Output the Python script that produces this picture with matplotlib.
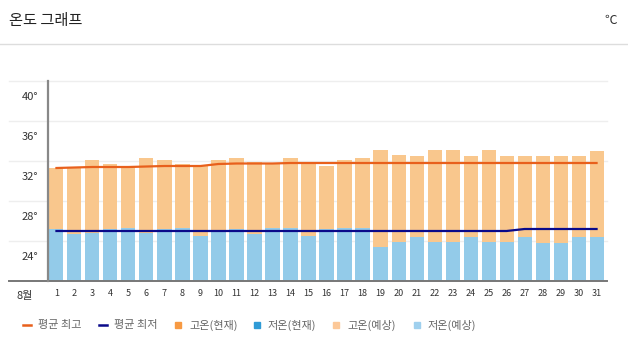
import matplotlib.pyplot as plt
import matplotlib.transforms as mtransforms
from matplotlib.lines import Line2D
from matplotlib.patches import Rectangle

plt.rcParams['font.family'] = ['Noto Sans CJK KR', 'DejaVu Sans']

days = list(range(1, 32))
high = [31.3, 31.3, 32.1, 31.7, 31.4, 32.3, 32.1, 31.7, 31.5, 32.1,
        32.3, 31.9, 31.7, 32.3, 31.7, 31.5, 32.1, 32.3, 33.1, 32.6,
        32.5, 33.1, 33.1, 32.5, 33.1, 32.5, 32.5, 32.5, 32.5, 32.5, 33.0]
low = [25.2, 24.7, 24.8, 25.2, 25.3, 24.8, 25.2, 25.3, 24.5, 25.1,
       25.2, 24.7, 25.3, 25.3, 24.5, 25.2, 25.3, 25.3, 23.4, 23.9,
       24.4, 23.9, 23.9, 24.4, 23.9, 23.9, 24.4, 23.8, 23.8, 24.4, 24.4]
avg_max = [31.3, 31.35, 31.4, 31.4, 31.4, 31.45, 31.5, 31.5, 31.5, 31.7,
           31.75, 31.75, 31.75, 31.8, 31.8, 31.8, 31.8, 31.8, 31.8, 31.8,
           31.8, 31.8, 31.8, 31.8, 31.8, 31.8, 31.8, 31.8, 31.8, 31.8, 31.8]
avg_min = [25.0] * 26 + [25.2] * 5
y_ticks = [24, 28, 32, 36, 40]
legend_labels = ['평균 최고', '평균 최저', '고온(현재)', '저온(현재)', '고온(예상)', '저온(예상)']

c_high = '#f9c78d'
c_low = '#93cbe9'
c_avgmax = '#e8601c'
c_avgmin = '#0a0a8a'
legend_colors = [c_avgmax, c_avgmin, '#f79a43', '#2f9bd6', '#fcc898', '#9fd0ee']

W, H = 628, 353
fig = plt.figure(figsize=(W / 100, H / 100), dpi=100)
ax = fig.add_axes([48 / W, 1 - 281 / H, (607 - 48) / W, 200 / H])

ax.bar(days, high, width=0.78, color=c_high, zorder=2)
ax.bar(days, low, width=0.78, color=c_low, zorder=3)
ax.plot(days, avg_max, color=c_avgmax, lw=1.6, zorder=4)
ax.plot(days, avg_min, color=c_avgmin, lw=1.6, zorder=4)

ax.set_xlim(0.53, 31.58)
ax.set_ylim(20, 40)
ax.set_yticks([])
ax.set_xticks([])
for s in ['top', 'right', 'bottom']:
    ax.spines[s].set_visible(False)
ax.spines['left'].set_color('#888888')
ax.spines['left'].set_linewidth(1.6)
ax.spines['left'].set_zorder(5)

# grid lines reach out past the left spine
ytr = ax.get_yaxis_transform()
for v in y_ticks:
    ax.add_line(Line2D([-0.07, 1.0], [v, v], transform=ytr, color='#eeeeee',
                       lw=1, clip_on=False, zorder=1))
    lab_tr = mtransforms.offset_copy(ytr, fig=fig, x=-10, y=-16, units='dots')
    ax.text(0, v, f'{v}°', transform=lab_tr, ha='right', va='center',
            fontsize=8, color='#333333')
ax.add_line(Line2D([-0.07, 1.0], [20, 20], transform=ytr, color='#777777',
                   lw=1.4, clip_on=False, zorder=5))

# day labels
xtr = mtransforms.offset_copy(ax.get_xaxis_transform(), fig=fig, x=0, y=-12, units='dots')
for d in days:
    ax.text(d, 0, str(d), transform=xtr, ha='center', va='center',
            fontsize=6.5, color='#333333')
fig.text(25 / W, 1 - 296 / H, '8월', ha='center', va='center', fontsize=8, color='#333333')

# header
fig.text(9 / W, 1 - 21 / H, '온도 그래프', ha='left', va='center', fontsize=11, color='#222222')
fig.text(617 / W, 1 - 20 / H, '℃', ha='right', va='center', fontsize=9, color='#333333')
fig.add_artist(Line2D([0, 1], [1 - 44 / H, 1 - 44 / H], transform=fig.transFigure,
                      color='#dddddd', lw=1))

# legend
marker_x = [27, 103, 178, 257, 336, 417]
ly = 1 - 325 / H
for i, (lab, col) in enumerate(zip(legend_labels, legend_colors)):
    mx = marker_x[i]
    if i < 2:
        fig.add_artist(Line2D([(mx - 4) / W, (mx + 4) / W], [ly, ly],
                              transform=fig.transFigure, color=col, lw=1.8))
    else:
        fig.add_artist(Rectangle(((mx - 3) / W, ly - 3 / H), 6 / W, 6 / H,
                                 transform=fig.transFigure, color=col))
    fig.text((mx + 11) / W, ly, lab, ha='left', va='center', fontsize=8, color='#666666')

fig.savefig('out.png', dpi=100)
